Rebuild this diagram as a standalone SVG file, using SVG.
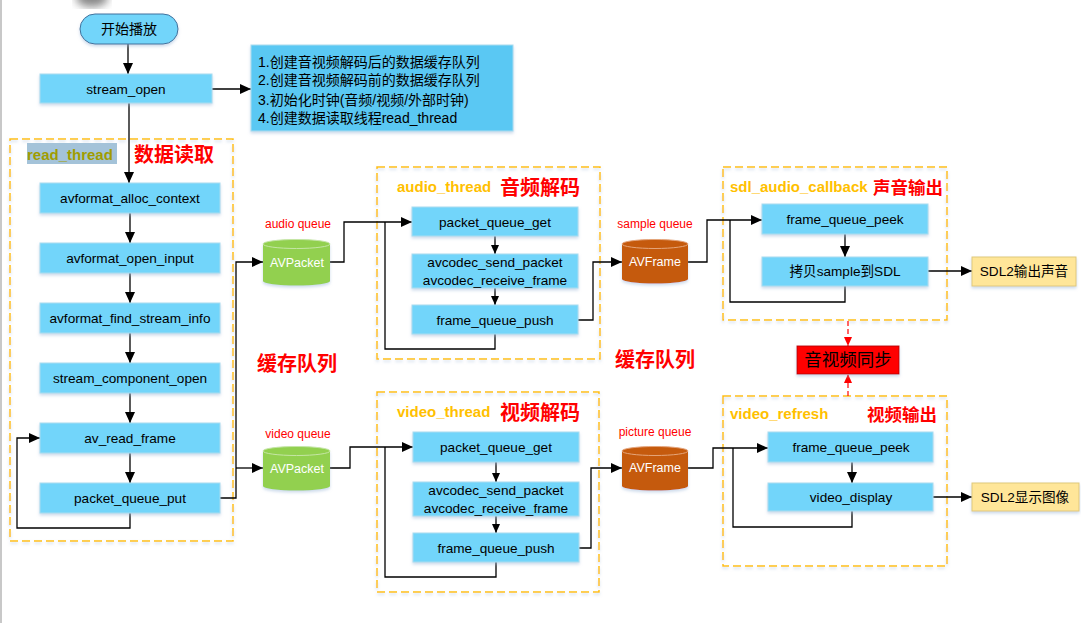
<svg xmlns="http://www.w3.org/2000/svg" width="1081" height="623" viewBox="0 0 1081 623">
<defs>
<style>
.t{font-family:"Liberation Sans","Noto Sans CJK SC",sans-serif;font-size:13.6px;fill:#000;text-anchor:middle;dominant-baseline:central}
.nt{font-family:"Liberation Sans","Noto Sans CJK SC",sans-serif;font-size:14px;fill:#000;dominant-baseline:central}
.n{fill:#72d5fa;stroke:#a9dcf0;stroke-width:1}
.c{fill:none;stroke:#000;stroke-width:1.3}
.grp{fill:none;stroke:#ffc000;stroke-width:1.5;stroke-dasharray:8,4}
.red{font-family:"Noto Sans CJK SC",sans-serif;font-weight:bold;font-size:20px;fill:#ff0000;dominant-baseline:central}
.red2{font-family:"Noto Sans CJK SC",sans-serif;font-weight:bold;font-size:17.5px;fill:#ff0000;dominant-baseline:central}
.ttl{font-family:"Liberation Sans","Noto Sans CJK SC",sans-serif;font-weight:bold;font-size:15px;fill:#ffc000;dominant-baseline:central}
.ql{font-family:"Liberation Sans",sans-serif;font-size:12px;fill:#ff0000;text-anchor:middle;dominant-baseline:central}
.cyl{font-family:"Liberation Sans",sans-serif;font-size:12.5px;fill:#fff;text-anchor:middle;dominant-baseline:central}
.out{fill:#ffe699;stroke:#e0c97a;stroke-width:1}
</style>
<marker id="ab" markerUnits="userSpaceOnUse" markerWidth="12" markerHeight="10" refX="11" refY="5" orient="auto"><path d="M0,0 L11,5 L0,10 z" fill="#000"/></marker>
<marker id="as" markerUnits="userSpaceOnUse" markerWidth="10" markerHeight="8" refX="9" refY="4" orient="auto"><path d="M0,0 L9,4 L0,8 z" fill="#000"/></marker>
<marker id="ar" markerUnits="userSpaceOnUse" markerWidth="10" markerHeight="8" refX="9" refY="4" orient="auto"><path d="M0,0 L9,4 L0,8 z" fill="#ff0000"/></marker>
<filter id="sh" x="-10%" y="-20%" width="120%" height="150%"><feDropShadow dx="0" dy="2" stdDeviation="1.5" flood-color="#9db8d8" flood-opacity="0.5"/></filter>
<filter id="blur"><feGaussianBlur stdDeviation="4"/></filter>
</defs>
<rect x="0" y="0" width="1081" height="623" fill="#fff"/>
<rect x="0" y="0" width="2" height="623" fill="#c8c8c8"/>
<ellipse cx="92" cy="-2" rx="16" ry="9" fill="#888" filter="url(#blur)"/>

<g id="groups">
<rect id="read_thread_box" class="grp" x="10" y="139" width="223" height="402" filter="url(#sh)"/>
<rect id="audio_thread_box" class="grp" x="377" y="167" width="223" height="192" filter="url(#sh)"/>
<rect id="video_thread_box" class="grp" x="377" y="392" width="222" height="200" filter="url(#sh)"/>
<rect id="sdl_audio_box" class="grp" x="723" y="167" width="224" height="153" filter="url(#sh)"/>
<rect id="video_refresh_box" class="grp" x="723" y="396" width="224" height="170" filter="url(#sh)"/>
<rect x="27" y="143" width="90" height="21" fill="#a4c3d9"/>
<text x="27" y="154" class="ttl" style="fill:#a09c00">read_thread</text>
<text x="134" y="153" class="red">数据读取</text>
<text x="397" y="186" class="ttl">audio_thread</text>
<text x="500" y="186" class="red">音频解码</text>
<text x="397" y="411" class="ttl">video_thread</text>
<text x="500" y="411" class="red">视频解码</text>
<text x="730" y="186" class="ttl">sdl_audio_callback</text>
<text x="873" y="186" class="red2">声音输出</text>
<text x="730" y="413" class="ttl">video_refresh</text>
<text x="867" y="413" class="red2">视频输出</text>
<text x="257" y="362" class="red">缓存队列</text>
<text x="615" y="358" class="red">缓存队列</text>
</g>

<g id="connectors">
<path class="c" d="M128,44 V74" marker-end="url(#ab)"/>
<path class="c" d="M212,89 H251" marker-end="url(#ab)"/>
<path class="c" d="M129,103 V183" marker-end="url(#ab)"/>
<path class="c" d="M130,213 V243" marker-end="url(#ab)"/>
<path class="c" d="M130,273 V303" marker-end="url(#ab)"/>
<path class="c" d="M130,333 V363" marker-end="url(#ab)"/>
<path class="c" d="M130,393 V423" marker-end="url(#ab)"/>
<path class="c" d="M130,453 V483" marker-end="url(#ab)"/>
<path class="c" d="M130,513 V528 H17 V438 H40" marker-end="url(#ab)"/>
<path class="c" d="M220,498 H236 V262 H263" marker-end="url(#ab)"/>
<path class="c" d="M236,468 H263" marker-end="url(#ab)"/>
<path class="c" d="M330,262 H344 V222 H412" marker-end="url(#ab)"/>
<path class="c" d="M495,334 V349 H385 V222"/>
<path class="c" d="M495,236 V254" marker-end="url(#as)"/>
<path class="c" d="M495,288 V305" marker-end="url(#as)"/>
<path class="c" d="M578,320 H593 V262 H622" marker-end="url(#ab)"/>
<path class="c" d="M688,262 H707 V220 H762" marker-end="url(#ab)"/>
<path class="c" d="M845,286 V302 H730 V220"/>
<path class="c" d="M845,234 V257" marker-end="url(#ab)"/>
<path class="c" d="M928,271 H972" marker-end="url(#ab)"/>
<path class="c" d="M330,468 H350 V447 H413" marker-end="url(#ab)"/>
<path class="c" d="M496,562 V577 H385 V447"/>
<path class="c" d="M496,462 V482" marker-end="url(#as)"/>
<path class="c" d="M496,516 V533" marker-end="url(#as)"/>
<path class="c" d="M579,548 H591 V468 H622" marker-end="url(#ab)"/>
<path class="c" d="M688,468 H713 V448 H768" marker-end="url(#ab)"/>
<path class="c" d="M852,511 V527 H733 V448"/>
<path class="c" d="M852,462 V483" marker-end="url(#ab)"/>
<path class="c" d="M933,497 H972" marker-end="url(#ab)"/>
<path d="M848,321 V346" fill="none" stroke="#ff0000" stroke-width="1.2" stroke-dasharray="5,3" marker-end="url(#ar)"/>
<path d="M848,396 V374" fill="none" stroke="#ff0000" stroke-width="1.2" stroke-dasharray="5,3" marker-end="url(#ar)"/>
</g>

<g id="start">
<rect x="80" y="14" width="98" height="30" rx="15" fill="#72d5fa" stroke="#41719c" stroke-width="1" filter="url(#sh)"/>
<text x="129" y="29" class="t" style="font-size:14px">开始播放</text>
</g>
<g id="stream_open">
<rect class="n" x="40" y="74" width="172" height="29" filter="url(#sh)"/>
<text x="126" y="89" class="t">stream_open</text>
</g>
<g id="open_notes">
<rect x="251" y="45" width="262" height="86" fill="#5ac8f3" stroke="#a9dcf0" filter="url(#sh)"/>
<text x="258" y="62" class="nt">1.创建音视频解码后的数据缓存队列</text>
<text x="258" y="80" class="nt">2.创建音视频解码前的数据缓存队列</text>
<text x="258" y="100" class="nt">3.初始化时钟(音频/视频/外部时钟)</text>
<text x="258" y="118" class="nt">4.创建数据读取线程read_thread</text>
</g>

<g id="avformat_alloc_context"><rect class="n" x="40" y="183" width="180" height="30" filter="url(#sh)"/><text x="130" y="198" class="t">avformat_alloc_context</text></g>
<g id="avformat_open_input"><rect class="n" x="40" y="243" width="180" height="30" filter="url(#sh)"/><text x="130" y="258" class="t">avformat_open_input</text></g>
<g id="avformat_find_stream_info"><rect class="n" x="40" y="303" width="180" height="30" filter="url(#sh)"/><text x="130" y="318" class="t">avformat_find_stream_info</text></g>
<g id="stream_component_open"><rect class="n" x="40" y="363" width="180" height="30" filter="url(#sh)"/><text x="130" y="378" class="t">stream_component_open</text></g>
<g id="av_read_frame"><rect class="n" x="40" y="423" width="180" height="30" filter="url(#sh)"/><text x="130" y="438" class="t">av_read_frame</text></g>
<g id="packet_queue_put"><rect class="n" x="40" y="483" width="180" height="30" filter="url(#sh)"/><text x="130" y="498" class="t">packet_queue_put</text></g>

<g id="audio_queue">
<text x="298" y="224" class="ql">audio queue</text>
<path d="M263,244 A33.5,4.5 0 0 1 330,244 V281 A33.5,4.5 0 0 1 263,281 Z" fill="#92d050" filter="url(#sh)"/>
<ellipse cx="296.5" cy="244" rx="33.5" ry="4.5" fill="none" stroke="#c5e6a5" stroke-width="1"/>
<text x="297" y="263" class="cyl">AVPacket</text>
</g>
<g id="video_queue">
<text x="298" y="434" class="ql">video queue</text>
<path d="M263,451 A33.5,4.5 0 0 1 330,451 V486 A33.5,4.5 0 0 1 263,486 Z" fill="#92d050" filter="url(#sh)"/>
<ellipse cx="296.5" cy="451" rx="33.5" ry="4.5" fill="none" stroke="#c5e6a5" stroke-width="1"/>
<text x="297" y="469" class="cyl">AVPacket</text>
</g>

<g id="audio_packet_queue_get"><rect class="n" x="412" y="207" width="166" height="29" filter="url(#sh)"/><text x="495" y="222" class="t">packet_queue_get</text></g>
<g id="audio_avcodec"><rect class="n" x="412" y="254" width="166" height="34" filter="url(#sh)"/><text x="495" y="262" class="t">avcodec_send_packet</text><text x="495" y="280" class="t">avcodec_receive_frame</text></g>
<g id="audio_frame_queue_push"><rect class="n" x="412" y="305" width="166" height="29" filter="url(#sh)"/><text x="495" y="320" class="t">frame_queue_push</text></g>

<g id="sample_queue">
<text x="655" y="224" class="ql">sample queue</text>
<path d="M622,244 A33,4.5 0 0 1 688,244 V279 A33,4.5 0 0 1 622,279 Z" fill="#c55a11" filter="url(#sh)"/>
<ellipse cx="655" cy="244" rx="33" ry="4.5" fill="none" stroke="#e5a57a" stroke-width="1"/>
<text x="655" y="262" class="cyl">AVFrame</text>
</g>

<g id="video_packet_queue_get"><rect class="n" x="413" y="432" width="166" height="30" filter="url(#sh)"/><text x="496" y="447" class="t">packet_queue_get</text></g>
<g id="video_avcodec"><rect class="n" x="413" y="482" width="166" height="34" filter="url(#sh)"/><text x="496" y="490" class="t">avcodec_send_packet</text><text x="496" y="508" class="t">avcodec_receive_frame</text></g>
<g id="video_frame_queue_push"><rect class="n" x="413" y="533" width="166" height="29" filter="url(#sh)"/><text x="496" y="548" class="t">frame_queue_push</text></g>

<g id="picture_queue">
<text x="655" y="432" class="ql">picture queue</text>
<path d="M622,451 A33,4.5 0 0 1 688,451 V486 A33,4.5 0 0 1 622,486 Z" fill="#c55a11" filter="url(#sh)"/>
<ellipse cx="655" cy="451" rx="33" ry="4.5" fill="none" stroke="#e5a57a" stroke-width="1"/>
<text x="655" y="468" class="cyl">AVFrame</text>
</g>

<g id="audio_frame_queue_peek"><rect class="n" x="762" y="204" width="166" height="30" filter="url(#sh)"/><text x="845" y="219" class="t">frame_queue_peek</text></g>
<g id="copy_sample"><rect class="n" x="762" y="257" width="166" height="29" filter="url(#sh)"/><text x="845" y="271" class="t">拷贝sample到SDL</text></g>
<g id="sdl2_audio_out"><rect class="out" x="972" y="257" width="104" height="29" filter="url(#sh)"/><text x="1024" y="271" class="t">SDL2输出声音</text></g>

<g id="av_sync"><rect x="797" y="346" width="102" height="28" fill="#ff0000" stroke="#c00000" stroke-width="1" filter="url(#sh)"/><text x="848" y="360" class="t" style="font-size:17.5px">音视频同步</text></g>

<g id="video_frame_queue_peek"><rect class="n" x="768" y="432" width="165" height="30" filter="url(#sh)"/><text x="851" y="447" class="t">frame_queue_peek</text></g>
<g id="video_display"><rect class="n" x="768" y="483" width="165" height="28" filter="url(#sh)"/><text x="851" y="497" class="t">video_display</text></g>
<g id="sdl2_video_out"><rect class="out" x="972" y="483" width="107" height="28" filter="url(#sh)"/><text x="1025" y="497" class="t">SDL2显示图像</text></g>
</svg>
